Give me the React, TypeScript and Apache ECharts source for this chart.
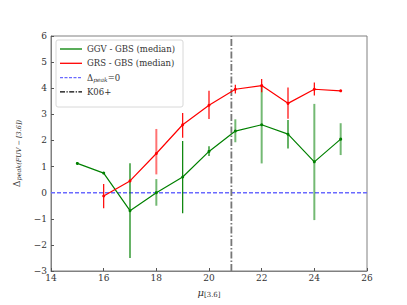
import React, { useEffect, useRef } from "react";
import * as echarts from "echarts";

const xs = [15, 16, 17, 18, 19, 20, 21, 22, 23, 24, 25];
const greenY = [1.12, 0.75, -0.69, 0.0, 0.6, 1.58, 2.36, 2.6, 2.24, 1.18, 2.05];
const greenLo = [null, null, -2.5, -0.5, -0.79, 1.4, 1.93, 1.12, 1.69, -1.05, 1.44];
const greenHi = [null, null, 1.13, 0.52, 1.98, 1.78, 2.81, 4.09, 2.78, 3.4, 2.66];
const greenFaded = [18, 21, 22, 24, 25];

const redX = [16, 17, 18, 19, 20, 21, 22, 23, 24, 25];
const redY = [-0.13, 0.45, 1.5, 2.6, 3.35, 3.96, 4.1, 3.42, 3.96, 3.9];
const redLo = [-0.6, null, 0.7, 2.1, 2.82, 3.8, 3.85, 2.83, 3.72, null];
const redHi = [0.33, null, 2.44, 3.05, 3.9, 4.13, 4.35, 4.03, 4.22, null];
const redFaded = [18];

const k06X = 20.85;
const zeroY = 0;

const xTicks = [14, 16, 18, 20, 22, 24, 26];
const yTicks = [-3, -2, -1, 0, 1, 2, 3, 4, 5, 6];

const legendNames = ["GGV - GBS (median)", "GRS - GBS (median)", "Δpeak=0", "K06+"];

const FONT = "'DejaVu Serif', 'Liberation Serif', serif";

function errData(x: number[], lo: (number | null)[], hi: (number | null)[], faded: number[]) {
  const out: any[] = [];
  x.forEach((v, i) => {
    if (lo[i] != null && hi[i] != null) out.push([v, lo[i], hi[i], faded.includes(v) ? 1 : 0]);
  });
  return out;
}

function errSeries(data: any[], color: string) {
  return {
    type: "custom",
    data,
    z: 3,
    renderItem: (params: any, api: any) => {
      const x = api.value(0);
      const p1 = api.coord([x, api.value(1)]);
      const p2 = api.coord([x, api.value(2)]);
      const f = api.value(3) === 1;
      return {
        type: "line",
        shape: { x1: p1[0], y1: p1[1], x2: p2[0], y2: p2[1] },
        style: { stroke: color, lineWidth: f ? 2 : 1.2, opacity: f ? 0.55 : 1 },
      };
    },
  };
}

export default function App() {
  const ref = useRef<HTMLDivElement>(null);
  useEffect(() => {
    if (!ref.current) return;
    const chart = echarts.init(ref.current, undefined, { renderer: "svg" });
    const lx = 56, ly = 40;
    const rowH = 14.3;
    const legendStyles = [
      { stroke: "#008000", lineWidth: 1.3 },
      { stroke: "#ff0000", lineWidth: 1.3 },
      { stroke: "#6a6aff", lineWidth: 1.3, lineDash: [3, 1.5] },
      { stroke: "#000000", lineWidth: 1.3, lineDash: [5, 1.5, 1.2, 1.5] },
    ];
    const legendEls: any[] = [
      {
        type: "rect",
        shape: { x: lx, y: ly, width: 127, height: 67, r: 2 },
        style: { fill: "rgba(255,255,255,0.85)", stroke: "#d8d8d8", lineWidth: 1 },
        z: 10,
      },
    ];
    legendNames.forEach((n, i) => {
      const y = ly + 9 + i * rowH;
      legendEls.push({
        type: "line",
        shape: { x1: lx + 4, y1: y, x2: lx + 26, y2: y },
        style: legendStyles[i],
        z: 11,
      });
      if (i === 2) {
        legendEls.push({
          type: "text",
          x: lx + 31,
          y: y,
          style: {
            text: "{a|Δ}{b|peak}{a|=0}",
            rich: {
              a: { fontFamily: FONT, fontSize: 8.5, fill: "#333" },
              b: { fontFamily: FONT, fontSize: 6, fontStyle: "italic", fill: "#333", padding: [4, 0, 0, 0] },
            },
            verticalAlign: "middle",
          },
          z: 11,
        });
      } else {
        legendEls.push({
          type: "text",
          x: lx + 31,
          y: y,
          style: { text: n, fontFamily: FONT, fontSize: 8.5, fill: "#333", verticalAlign: "middle" },
          z: 11,
        });
      }
    });

    chart.setOption({
      animation: false,
      grid: { left: 51, right: 40, top: 36, bottom: 34 },
      xAxis: {
        type: "value",
        min: 14,
        max: 26,
        interval: 2,
        name: "{i|μ}{s|[3.6]}",
        nameLocation: "middle",
        nameGap: 15,
        nameTextStyle: {
          rich: {
            i: { fontFamily: FONT, fontSize: 10, fontStyle: "italic", color: "#333" },
            s: { fontFamily: FONT, fontSize: 7, color: "#333", padding: [5, 0, 0, 0] },
          },
        },
        axisLine: { show: true, onZero: false, lineStyle: { color: "#808080", width: 1 } },
        axisTick: { show: true, inside: true, length: 3, lineStyle: { color: "#555" } },
        axisLabel: {
          fontFamily: FONT,
          fontSize: 9,
          color: "#333",
          margin: 2,
          formatter: (v: number) => (xTicks.includes(v) ? String(v) : ""),
        },
        splitLine: { show: false },
      },
      yAxis: {
        type: "value",
        min: -3,
        max: 6,
        interval: 1,
        name: "{a|Δ}{s|peak(FUV − [3.6])}",
        nameLocation: "middle",
        nameGap: 16,
        nameRotate: 90,
        nameTextStyle: {
          rich: {
            a: { fontFamily: FONT, fontSize: 9, color: "#333" },
            s: { fontFamily: FONT, fontSize: 6.5, fontStyle: "italic", color: "#333", padding: [5, 0, 0, 0] },
          },
        },
        axisLine: { show: true, onZero: false, lineStyle: { color: "#808080", width: 1 } },
        axisTick: { show: true, inside: true, length: 3, lineStyle: { color: "#555" } },
        axisLabel: {
          fontFamily: FONT,
          fontSize: 9,
          color: "#333",
          margin: 4,
          formatter: (v: number) => (yTicks.includes(v) ? (v < 0 ? "−" + Math.abs(v) : String(v)) : ""),
        },
        splitLine: { show: false },
      },
      graphic: [
        {
          type: "rect",
          shape: { x: 51, y: 36, width: 316, height: 235 },
          style: { fill: "none", stroke: "#808080", lineWidth: 1 },
          silent: true,
          z: 0,
        },
        ...legendEls,
      ],
      series: [
        {
          type: "line",
          data: [
            [14, zeroY],
            [26, zeroY],
          ],
          symbol: "none",
          lineStyle: { color: "#6a6aff", width: 1.5, type: [4, 2] },
          z: 1,
        },
        {
          type: "line",
          data: [
            [k06X, -3],
            [k06X, 6],
          ],
          symbol: "none",
          lineStyle: { color: "#777777", width: 1.8, type: [7, 2, 1.5, 2] },
          z: 1,
        },
        errSeries(errData(xs, greenLo, greenHi, greenFaded), "#008000"),
        errSeries(errData(redX, redLo, redHi, redFaded), "#ff0000"),
        {
          type: "line",
          data: xs.map((x, i) => [x, greenY[i]]),
          symbol: "circle",
          symbolSize: 3,
          itemStyle: { color: "#008000" },
          lineStyle: { color: "#008000", width: 1.2 },
          z: 4,
        },
        {
          type: "line",
          data: redX.map((x, i) => [x, redY[i]]),
          symbol: "circle",
          symbolSize: 3,
          itemStyle: { color: "#ff0000" },
          lineStyle: { color: "#ff0000", width: 1.2 },
          z: 4,
        },
      ],
    });
    return () => chart.dispose();
  }, []);
  return <div ref={ref} style={{ width: 407, height: 305, position: "absolute", left: 0, top: 0 }} />;
}
